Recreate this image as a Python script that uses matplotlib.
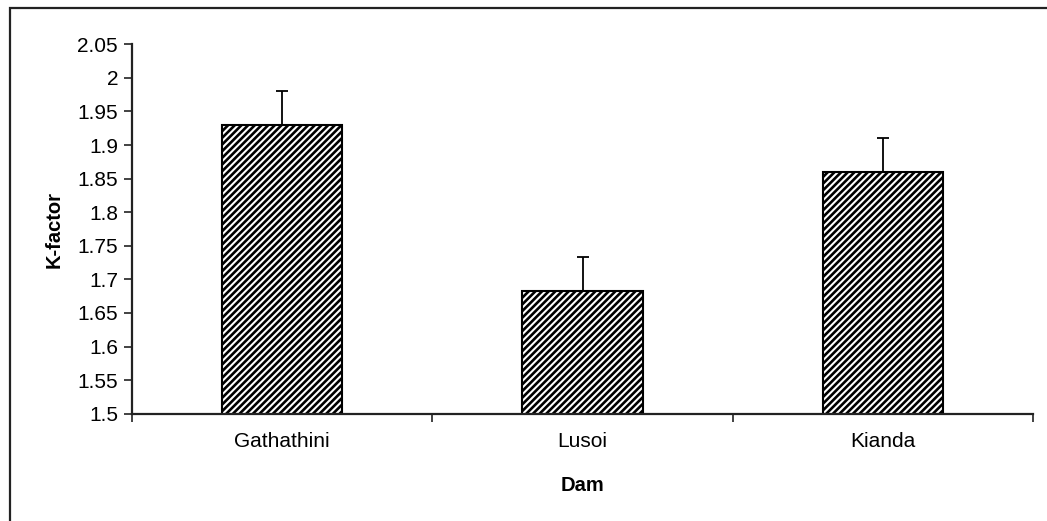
import matplotlib
matplotlib.use("Agg")
import matplotlib.pyplot as plt
from matplotlib.patches import Rectangle

# data
dams = ["Gathathini", "Lusoi", "Kianda"]
k_factor = [1.93, 1.683, 1.86]
k_err = [0.05, 0.051, 0.05]
y_ticks = [1.5, 1.55, 1.6, 1.65, 1.7, 1.75, 1.8, 1.85, 1.9, 1.95, 2.0, 2.05]
y_labels = ["1.5", "1.55", "1.6", "1.65", "1.7", "1.75", "1.8", "1.85", "1.9", "1.95", "2", "2.05"]

plt.rcParams["font.family"] = ["Liberation Sans", "DejaVu Sans"]
plt.rcParams["hatch.linewidth"] = 1.9
plt.rcParams["hatch.color"] = "black"

fig = plt.figure(figsize=(10.47, 5.21), dpi=100)

# outer chart frame (runs off the right and bottom edges)
fig.patches.append(Rectangle((10 / 1047, -0.05), 1.1, 1 - 8 / 521 + 0.05,
                             transform=fig.transFigure, fill=False,
                             edgecolor="#222222", linewidth=1.6))

ax = fig.add_axes([132 / 1047, 1 - 413.7 / 521, 901 / 1047, (413.7 - 44.3) / 521])

x = range(len(dams))
ax.bar(x, k_factor, width=0.4, bottom=0, color="white", edgecolor="black",
       linewidth=1.5, hatch="/////", zorder=2)
ax.errorbar(x, k_factor, yerr=[[0] * len(dams), k_err], fmt="none",
            ecolor="black", elinewidth=1.3, capsize=4.3, capthick=1.3, zorder=3)

ax.set_xlim(-0.5, 2.5)
ax.set_ylim(1.5, 2.05)
ax.set_yticks(y_ticks)
ax.set_yticklabels(y_labels, fontsize=15)
ax.set_xticks([-0.5, 0.5, 1.5, 2.5])
ax.set_xticklabels([])
ax.set_xticks(list(x), minor=True)
ax.set_xticklabels(dams, minor=True, fontsize=15)
ax.tick_params(axis="x", which="minor", length=0, pad=13)
ax.tick_params(axis="both", which="major", length=6, width=1.2, color="#222222")
ax.tick_params(axis="y", pad=4)

for side in ["top", "right"]:
    ax.spines[side].set_visible(False)
for side in ["left", "bottom"]:
    ax.spines[side].set_color("#222222")
    ax.spines[side].set_linewidth(1.6)

ax.set_xlabel("Dam", fontsize=14.5, fontweight="bold", labelpad=18)
ax.set_ylabel("K-factor", fontsize=14.5, fontweight="bold", labelpad=10)

fig.savefig("out.png", dpi=100)
